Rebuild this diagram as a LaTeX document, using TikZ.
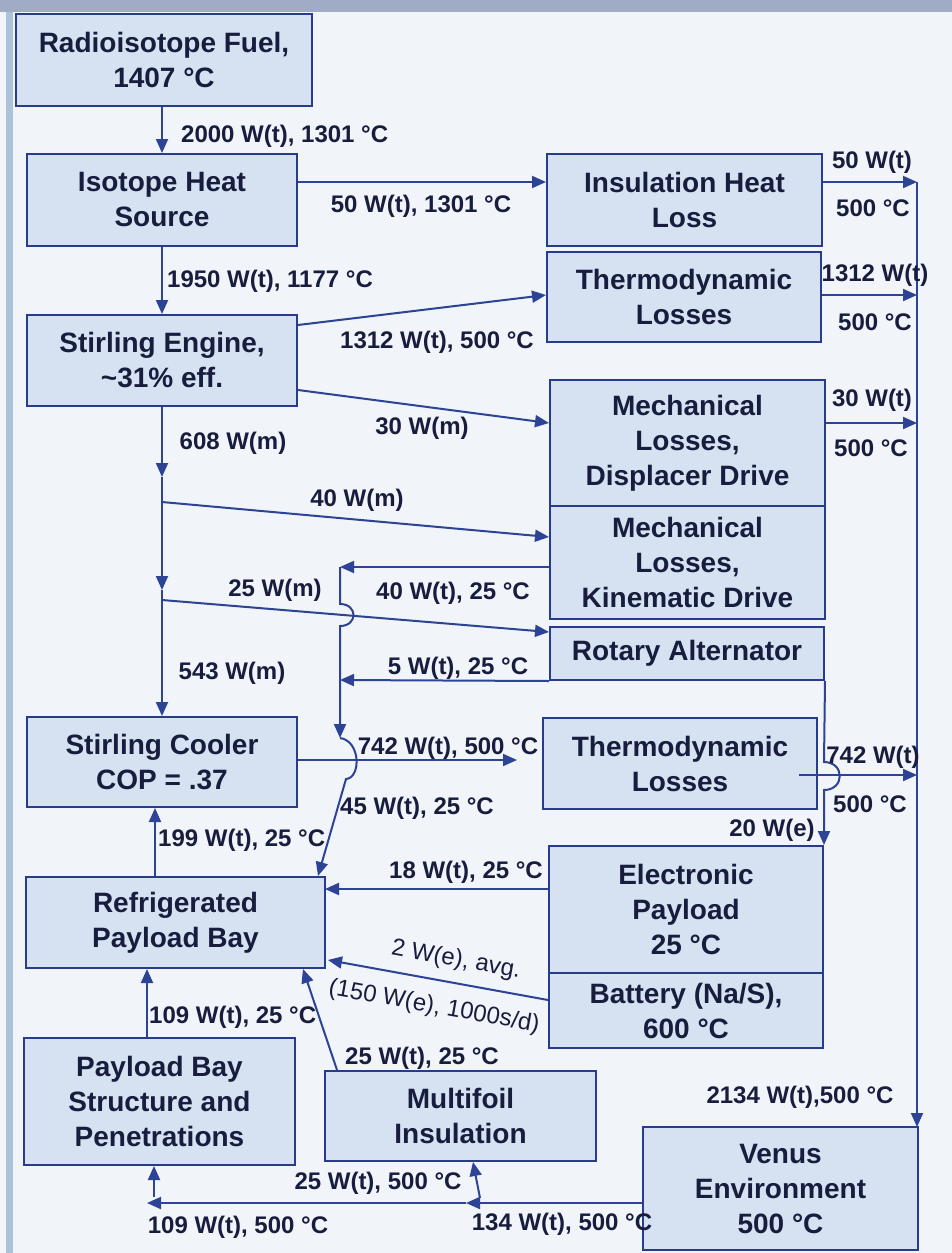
\documentclass[tikz,border=0pt]{standalone}
\usepackage{fontspec}
\setmainfont{Liberation Sans}
\usetikzlibrary{arrows.meta}
\definecolor{bg}{RGB}{241,244,249}
\definecolor{boxfill}{RGB}{214,226,242}
\definecolor{boxline}{RGB}{40,60,140}
\definecolor{ink}{RGB}{24,29,62}
\definecolor{flowc}{RGB}{45,68,150}
\definecolor{topband}{RGB}{160,172,198}
\definecolor{stripe}{RGB}{172,194,216}
\tikzset{
 box/.style={draw=boxline, fill=boxfill, line width=2pt, align=center, text=ink,
   font=\fontsize{28}{35}\selectfont\bfseries, inner sep=0pt},
 lbl/.style={text=ink, font=\fontsize{24}{28}\selectfont\bfseries, inner sep=0pt},
 plainlbl/.style={text=ink, font=\fontsize{24}{27}\selectfont, inner sep=0pt},
 flow/.style={draw=flowc, line width=2pt, -{Triangle[length=14pt,width=12pt]}},
}
\begin{document}
\begin{tikzpicture}[x=1pt,y=-1pt]
\useasboundingbox (0,0) rectangle (952,1253);
\fill[bg] (0,0) rectangle (952,1253);
\fill[topband] (0,0) rectangle (952,12);
\fill[stripe] (6,12) rectangle (13,1253);

% boxes
\node[box, minimum width=296pt, minimum height=92pt] (fuel) at (164,60) {Radioisotope Fuel,\\1407 °C};
\node[box, minimum width=270pt, minimum height=92pt] (ihs) at (162,200) {Isotope Heat\\Source};
\node[box, minimum width=275pt, minimum height=92pt] (ins) at (684.5,200) {Insulation Heat\\Loss};
\node[box, minimum width=274pt, minimum height=90pt] (th1) at (684,297) {Thermodynamic\\Losses};
\node[box, minimum width=270pt, minimum height=91pt] (se) at (162,360.5) {Stirling Engine,\\\textasciitilde 31\% eff.};
\node[box, minimum width=275pt, minimum height=126pt] (mdisp) at (687.5,443) {Mechanical\\Losses,\\Displacer Drive};
\node[box, minimum width=275pt, minimum height=113pt] (mkin) at (687.5,562.5) {Mechanical\\Losses,\\Kinematic Drive};
\node[box, minimum width=274pt, minimum height=53pt] (rot) at (687,653.5) {Rotary Alternator};
\node[box, minimum width=274pt, minimum height=91pt] (th2) at (680,763.5) {Thermodynamic\\Losses};
\node[box, minimum width=270pt, minimum height=90pt] (cool) at (162,762) {Stirling Cooler\\COP = .37};
\node[box, minimum width=299pt, minimum height=91pt] (refr) at (175.5,922.5) {Refrigerated\\Payload Bay};
\node[box, minimum width=274pt, minimum height=127pt] (elec) at (686,909.5) {Electronic\\Payload\\25 °C};
\node[box, minimum width=274pt, minimum height=75pt] (batt) at (686,1010.5) {Battery (Na/S),\\600 °C};
\node[box, minimum width=271pt, minimum height=127pt] (pbs) at (159.5,1101.5) {Payload Bay\\Structure and\\Penetrations};
\node[box, minimum width=271pt, minimum height=90pt] (mfi) at (460.5,1116) {Multifoil\\Insulation};
\node[box, minimum width=275pt, minimum height=123pt] (venus) at (780.5,1188.5) {Venus\\Environment\\500 °C};

% free-end coordinates
\coordinate (b1) at (917,182);
\coordinate (b2) at (917,295);
\coordinate (b3) at (917,423);
\coordinate (b4) at (917,775);
\coordinate (bv) at (917,1127);
\coordinate (a1) at (162,477);
\coordinate (a2) at (162,590);
\coordinate (k1) at (162,502);
\coordinate (r1) at (162,600);
\coordinate (h1) at (340,567);
\coordinate (h2) at (340,680);
\coordinate (h3) at (340,738);
\coordinate (t2a) at (517,760);
\coordinate (e1) at (325,889);
\coordinate (m1) at (466,1203);
\coordinate (m2) at (147,1203);
\coordinate (m3) at (154,1197);
\coordinate (m4) at (480,1198);

% top chain
\draw[flow] (ihs.north |- fuel.south) -- (ihs.north);
\draw[flow] ([yshift=18pt]ihs.east) -- ([yshift=18pt]ins.west);
\draw[flow] (ihs.south) -- (se.north);
\draw[flow] ([yshift=35.5pt]se.east) -- ([yshift=2pt]th1.west);
\draw[flow] ([yshift=-29.5pt]se.east) -- ([yshift=20pt]mdisp.west);

% bus to Venus
\draw[flow] ([yshift=18pt]ins.east) -- (b1);
\draw[flow] ([yshift=2pt]th1.east) -- (b2);
\draw[flow] ([yshift=20pt]mdisp.east) -- (b3);
\draw[flow] ([xshift=-19pt,yshift=-11.5pt]th2.east) -- (b4);
\draw[flow] (b1) -- (bv);

% 20 W(e) line with hop
\draw[flow] (rot.south east) -- (824,762) .. controls (845,762) and (845,790) .. (824,790) -- (elec.north east);

% main trunk
\draw[flow] (se.south) -- (a1);
\draw[flow] (a1) -- (a2);
\draw[flow] (a2) -- (cool.north);
\draw[flow] (k1) -- ([yshift=25.5pt]mkin.west);
\draw[flow] (r1) -- ([yshift=21.5pt]rot.west);

% heat return to payload bay
\draw[flow] ([yshift=-4.5pt]mkin.west) -- (h1);
\draw[flow] (rot.south west) -- (h2);
\draw[flow] (h1) -- (340,604) .. controls (358,604) and (358,626) .. (340,626) -- (h3);
\draw[flow] (h3) .. controls (361,741) and (361,778) .. (346,779) -- ([xshift=142.5pt]refr.north);

% cooler -> thermodynamic losses
\draw[flow] ([yshift=2pt]cool.east) -- (t2a);

% bottom left flows
\draw[flow] ([xshift=-20.5pt]refr.north) -- ([xshift=-7pt]cool.south);
\draw[flow] ([xshift=-12.5pt]pbs.north) -- ([xshift=-28.5pt]refr.south);
\draw[flow] ([xshift=-123.5pt]mfi.north) -- ([xshift=127.5pt]refr.south);
\draw[flow] ([yshift=10.5pt]batt.west) -- ([xshift=2pt,yshift=-37.5pt]refr.east);
\draw[flow] ([yshift=20.5pt]elec.west) -- (e1);

% bottom
\draw[flow] ([yshift=-14.5pt]venus.west) -- (m1);
\draw[flow] (m1) -- (m2);
\draw[flow] (m3) -- ([xshift=-5.5pt]pbs.south);
\draw[flow] (m4) -- ([xshift=12.5pt]mfi.south);

% labels
\node[lbl, anchor=west] (l1) at (181,136) {2000 W(t), 1301 °C};
\node[lbl] (l2) at (421,206) {50 W(t), 1301 °C};
\node[lbl, anchor=west] (l3) at (167,281) {1950 W(t), 1177 °C};
\node[lbl] (l4) at (437,342) {1312 W(t), 500 °C};
\node[lbl] (l5) at (422,428) {30 W(m)};
\node[lbl] (l6) at (233,443) {608 W(m)};
\node[lbl] (l7) at (357,500) {40 W(m)};
\node[lbl] (l8) at (275,590) {25 W(m)};
\node[lbl] (l9) at (453,593) {40 W(t), 25 °C};
\node[lbl] (l10) at (458,668) {5 W(t), 25 °C};
\node[lbl] (l11) at (232,673) {543 W(m)};
\node[lbl] (l12) at (448,748) {742 W(t), 500 °C};
\node[lbl] (l13) at (417,808) {45 W(t), 25 °C};
\node[lbl, anchor=west] (l14) at (158,840) {199 W(t), 25 °C};
\node[lbl] (l15) at (466,872) {18 W(t), 25 °C};
\node[lbl] (l16) at (772,830) {20 W(e)};
\node[lbl] (l17) at (873,757) {742 W(t)};
\node[lbl] (l18) at (870,804) {500 °C};
\node[lbl] (l19) at (872,162) {50 W(t)};
\node[lbl] (l20) at (873,208) {500 °C};
\node[lbl] (l21) at (875,275) {1312 W(t)};
\node[lbl] (l22) at (875,322) {500 °C};
\node[lbl] (l23) at (872,400) {30 W(t)};
\node[lbl] (l24) at (871,448) {500 °C};
\node[lbl] (l25) at (800,1097) {2134 W(t),500 °C};
\node[lbl] (l26) at (422,1058) {25 W(t), 25 °C};
\node[lbl, anchor=west] (l27) at (149,1017) {109 W(t), 25 °C};
\node[lbl] (l28) at (378,1183) {25 W(t), 500 °C};
\node[lbl] (l29) at (238,1227) {109 W(t), 500 °C};
\node[lbl] (l30) at (562,1224) {134 W(t), 500 °C};
\node[plainlbl, rotate=-10.2] (l31) at (456,960) {2 W(e), avg.};
\node[plainlbl, rotate=-10.2] (l32) at (434,1007) {(150 W(e), 1000s/d)};
\end{tikzpicture}
\end{document}
